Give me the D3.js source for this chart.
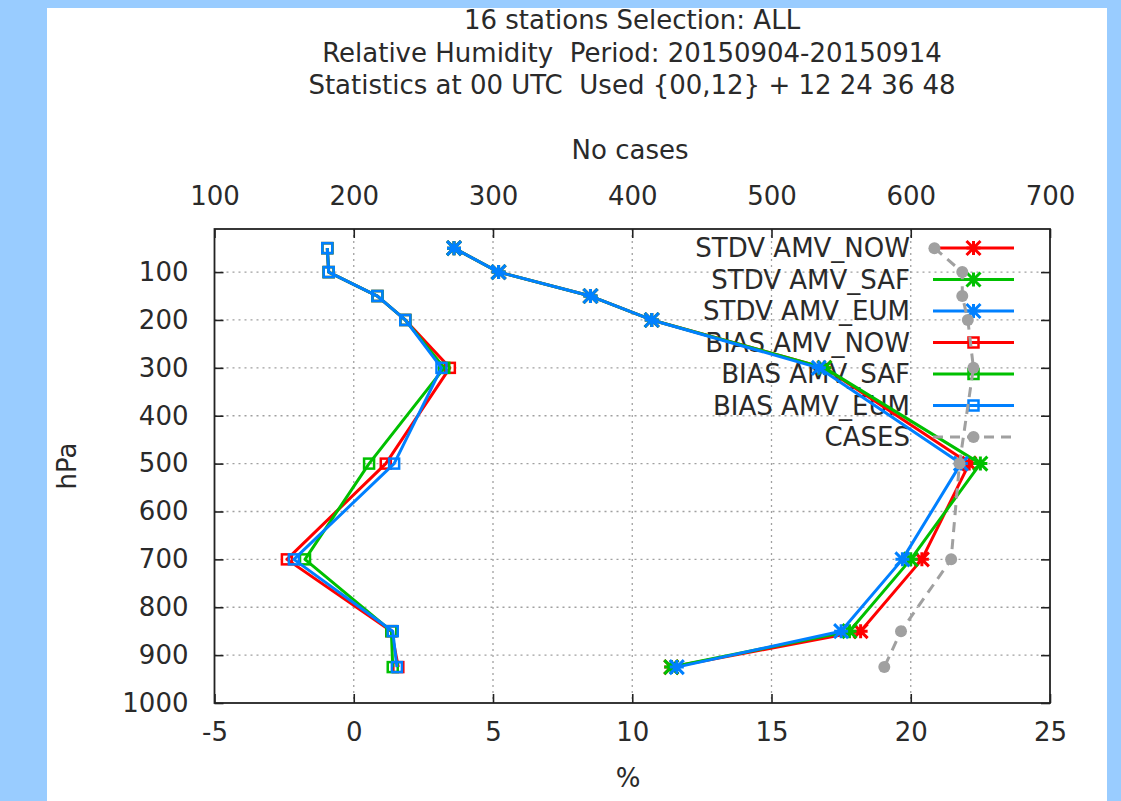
<!DOCTYPE html>
<html>
<head>
<meta charset="utf-8">
<script src="https://cdn.jsdelivr.net/npm/d3@7/dist/d3.min.js"></script>
<style>
  html, body { margin: 0; padding: 0; background: #99ccff; }
  svg { display: block; }
  text { font-family: "DejaVu Sans", sans-serif; fill: #2a2a2a; white-space: pre; }
</style>
</head>
<body>
<div id="chart"></div>
<script>
// pressure levels (hPa)
var levels = [50, 100, 150, 200, 300, 500, 700, 850, 925];

// standard deviation (%)
var stdvNow = [3.6, 5.2, 8.5, 10.7, 16.9, 22.1, 20.4, 18.2, 11.4];
var stdvSaf = [3.6, 5.2, 8.5, 10.7, 16.9, 22.5, 20.0, 17.8, 11.4];
var stdvEum = [3.6, 5.2, 8.5, 10.7, 16.7, 21.8, 19.7, 17.5, 11.6];

// bias (%)
var biasNow = [-0.95, -0.9, 0.85, 1.85, 3.45, 1.15, -2.4, 1.35, 1.6];
var biasSaf = [-0.95, -0.9, 0.85, 1.85, 3.25, 0.55, -1.75, 1.35, 1.4];
var biasEum = [-0.95, -0.9, 0.85, 1.85, 3.15, 1.45, -2.15, 1.4, 1.55];

// number of cases
var cases = [617, 637, 637, 641, 645, 635, 629, 593, 581];

var titleLines = [
  "16 stations Selection: ALL",
  "Relative Humidity  Period: 20150904-20150914",
  "Statistics at 00 UTC  Used {00,12} + 12 24 36 48"
];
var xTicks = [-5, 0, 5, 10, 15, 20, 25];
var x2Ticks = [100, 200, 300, 400, 500, 600, 700];
var yTicks = [100, 200, 300, 400, 500, 600, 700, 800, 900, 1000];

var width = 1121, height = 801;
var frame = { left: 214.5, right: 1050, top: 229, bottom: 703 };
var fs = 26;

var svg = d3.select("#chart").append("svg")
  .attr("width", width)
  .attr("height", height);

// white panel on blue background
svg.append("rect")
  .attr("x", 47).attr("y", 8)
  .attr("width", 1060).attr("height", height - 8)
  .attr("fill", "#ffffff");

var x = d3.scaleLinear().domain([-5, 25]).range([frame.left, frame.right]);
var x2 = d3.scaleLinear().domain([100, 700]).range([frame.left, frame.right]);
var y = d3.scaleLinear().domain([10, 1000]).range([frame.top, frame.bottom]);

// titles
svg.append("g").selectAll("text")
  .data(titleLines)
  .enter().append("text")
  .attr("x", 632)
  .attr("y", function(d, i) { return 29 + i * 32.5; })
  .attr("text-anchor", "middle")
  .attr("font-size", fs)
  .text(function(d) { return d; });

// grid
var grid = svg.append("g")
  .attr("stroke", "#a0a0a0")
  .attr("stroke-width", 1.3)
  .attr("stroke-dasharray", "2,4");

grid.selectAll(".gx")
  .data(xTicks.slice(1, -1))
  .enter().append("line")
  .attr("x1", function(d) { return x(d); })
  .attr("x2", function(d) { return x(d); })
  .attr("y1", frame.top)
  .attr("y2", frame.bottom);

grid.selectAll(".gy")
  .data(yTicks.slice(0, -1))
  .enter().append("line")
  .attr("x1", frame.left)
  .attr("x2", frame.right)
  .attr("y1", function(d) { return y(d); })
  .attr("y2", function(d) { return y(d); });

// axes (ticks inward, mirrored)
var tickLen = 9;
var plain = function(d) { return String(d); };
var xAxis = d3.axisBottom(x).tickValues(xTicks).tickSize(-tickLen).tickPadding(20).tickFormat(plain);
var x2Axis = d3.axisTop(x2).tickValues(x2Ticks).tickSize(-tickLen).tickPadding(24).tickFormat(plain);
var yAxis = d3.axisLeft(y).tickValues(yTicks).tickSize(-tickLen).tickPadding(26).tickFormat(plain);
var yRight = d3.axisRight(y).tickValues(yTicks).tickSize(-tickLen).tickFormat("");

function styleAxis(g) {
  g.select(".domain").remove();
  g.selectAll(".tick line").attr("stroke", "#222").attr("stroke-width", 1.6);
  g.selectAll(".tick text")
    .attr("font-size", fs)
    .attr("font-family", "DejaVu Sans, sans-serif")
    .attr("fill", "#2a2a2a");
}

svg.append("g").attr("transform", "translate(0," + frame.bottom + ")").call(xAxis).call(styleAxis);
svg.append("g").attr("transform", "translate(0," + frame.top + ")").call(x2Axis).call(styleAxis);
svg.append("g").attr("transform", "translate(" + frame.left + ",0)").call(yAxis).call(styleAxis);
svg.append("g").attr("transform", "translate(" + frame.right + ",0)").call(yRight).call(styleAxis);

// frame
svg.append("rect")
  .attr("x", frame.left).attr("y", frame.top)
  .attr("width", frame.right - frame.left)
  .attr("height", frame.bottom - frame.top)
  .attr("fill", "none")
  .attr("stroke", "#222")
  .attr("stroke-width", 1.8);

// axis labels
svg.append("text")
  .attr("x", 630).attr("y", 159)
  .attr("text-anchor", "middle")
  .attr("font-size", fs)
  .text("No cases");

svg.append("text")
  .attr("x", 628).attr("y", 787)
  .attr("text-anchor", "middle")
  .attr("font-size", fs)
  .text("%");

svg.append("text")
  .attr("transform", "translate(76,466) rotate(-90)")
  .attr("text-anchor", "middle")
  .attr("font-size", fs)
  .text("hPa");

// marker drawers
function starMarker(g, cx, cy, color) {
  var s = 7;
  g.append("path")
    .attr("d", "M" + (cx - s) + "," + cy + "H" + (cx + s) +
      "M" + cx + "," + (cy - s) + "V" + (cy + s) +
      "M" + (cx - s) + "," + (cy - s) + "L" + (cx + s) + "," + (cy + s) +
      "M" + (cx - s) + "," + (cy + s) + "L" + (cx + s) + "," + (cy - s))
    .attr("stroke", color)
    .attr("stroke-width", 3)
    .attr("fill", "none");
}

function squareMarker(g, cx, cy, color) {
  var s = 5;
  g.append("rect")
    .attr("x", cx - s).attr("y", cy - s)
    .attr("width", 2 * s).attr("height", 2 * s)
    .attr("stroke", color)
    .attr("stroke-width", 2.5)
    .attr("fill", "none");
}

function dotMarker(g, cx, cy, color) {
  g.append("circle")
    .attr("cx", cx).attr("cy", cy)
    .attr("r", 6)
    .attr("fill", color);
}

var series = [
  { name: "STDV AMV_NOW", values: stdvNow, color: "#ff0000", marker: starMarker, scale: x },
  { name: "STDV AMV_SAF", values: stdvSaf, color: "#00c000", marker: starMarker, scale: x },
  { name: "STDV AMV_EUM", values: stdvEum, color: "#0080ff", marker: starMarker, scale: x },
  { name: "BIAS AMV_NOW", values: biasNow, color: "#ff0000", marker: squareMarker, scale: x },
  { name: "BIAS AMV_SAF", values: biasSaf, color: "#00c000", marker: squareMarker, scale: x },
  { name: "BIAS AMV_EUM", values: biasEum, color: "#0080ff", marker: squareMarker, scale: x },
  { name: "CASES", values: cases, color: "#a0a0a0", marker: dotMarker, scale: x2, dash: "10,7" }
];

// legend text first, lines and markers on top
var legendX = 910, legendY = 248, legendStep = 31.5;
svg.append("g").selectAll("text")
  .data(series)
  .enter().append("text")
  .attr("x", legendX)
  .attr("y", function(d, i) { return legendY + i * legendStep; })
  .attr("dy", "0.36em")
  .attr("text-anchor", "end")
  .attr("font-size", fs)
  .text(function(d) { return d.name; });

var line = d3.line();

series.forEach(function(s, i) {
  var g = svg.append("g");
  var ly = legendY + i * legendStep;

  // key sample
  g.append("line")
    .attr("x1", 933).attr("x2", 1014)
    .attr("y1", ly).attr("y2", ly)
    .attr("stroke", s.color)
    .attr("stroke-width", 3)
    .attr("stroke-dasharray", s.dash || null);
  s.marker(g, 973.5, ly, s.color);

  var pts = levels.map(function(p, j) { return [s.scale(s.values[j]), y(p)]; });

  g.append("path")
    .attr("d", line(pts))
    .attr("fill", "none")
    .attr("stroke", s.color)
    .attr("stroke-width", 3)
    .attr("stroke-linejoin", "round")
    .attr("stroke-dasharray", s.dash || null);

  pts.forEach(function(p) { s.marker(g, p[0], p[1], s.color); });
});
</script>
</body>
</html>
